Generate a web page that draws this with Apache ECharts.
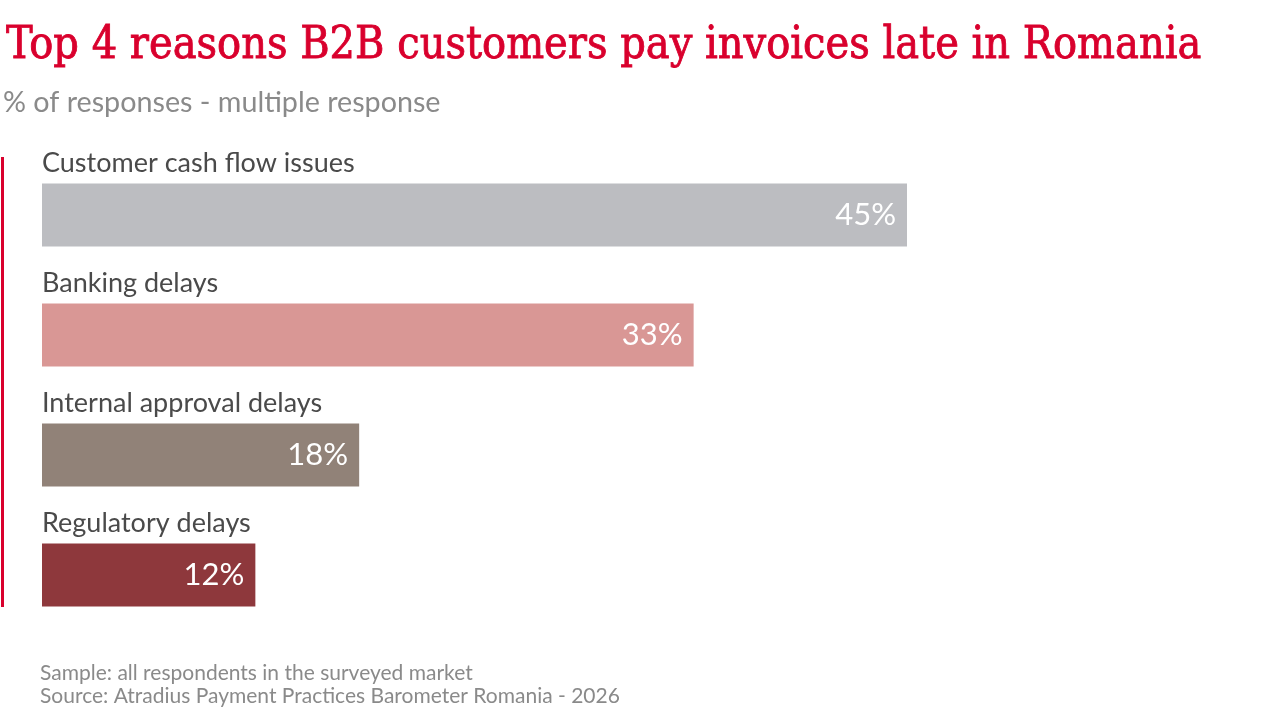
<!DOCTYPE html>
<html>
<head>
<meta charset="utf-8">
<script src="https://cdn.jsdelivr.net/npm/echarts@6/dist/echarts.min.js"></script>
<style>
  html, body { margin: 0; padding: 0; background: #fff; }
  #chart { width: 1280px; height: 720px; }
</style>
</head>
<body>
<div id="chart"></div>
<script>
var categories = ['Customer cash flow issues', 'Banking delays', 'Internal approval delays', 'Regulatory delays'];
// printed percentages
var values = [45, 33, 18, 12];
// bar lengths as drawn in the picture (they do not follow the printed numbers exactly)
var barLengths = [45, 33.9, 16.5, 11.1];
var barColors = ['#bcbdc1', '#d99795', '#918278', '#8e383c'];

var chart = echarts.init(document.getElementById('chart'));

var option = {
  backgroundColor: '#ffffff',
  animation: false,
  title: [
    {
      text: 'Top 4 reasons B2B customers pay invoices late in Romania',
      left: 1,
      top: 19,
      textStyle: {
        fontFamily: 'DejaVu Serif Condensed',
        fontWeight: 'normal',
        fontSize: 44.5,
        color: '#d9002d',
        textBorderColor: '#d9002d',
        textBorderWidth: 0.8
      }
    },
    {
      text: '% of responses - multiple response',
      left: -2,
      top: 83,
      textStyle: {
        fontFamily: 'Lato',
        fontWeight: 'normal',
        fontSize: 28.7,
        color: '#8a8a8a'
      }
    },
    {
      text: 'Sample: all respondents in the surveyed market\nSource: Atradius Payment Practices Barometer Romania - 2026',
      left: 35,
      top: 657,
      textStyle: {
        fontFamily: 'Lato',
        fontWeight: 'normal',
        fontSize: 21,
        lineHeight: 23,
        color: '#8a8a8a'
      }
    }
  ],
  graphic: [
    {
      type: 'rect',
      shape: { x: 1, y: 157, width: 3, height: 450 },
      style: { fill: '#d9002d' }
    }
  ],
  grid: {
    left: 42,
    top: 155,
    width: 865,
    height: 480
  },
  xAxis: {
    type: 'value',
    min: 0,
    max: 45,
    show: false
  },
  yAxis: {
    type: 'category',
    data: categories,
    inverse: true,
    axisLine: { show: false },
    axisTick: { show: false },
    splitLine: { show: false },
    axisLabel: {
      inside: true,
      align: 'left',
      verticalAlign: 'bottom',
      padding: [0, 0, 38, 0],
      margin: 0,
      fontFamily: 'Lato',
      fontSize: 27,
      color: '#4a4a4a'
    },
    z: 10
  },
  series: [
    {
      type: 'bar',
      barWidth: 63,
      data: barLengths.map(function (v, i) {
        return { value: v, pct: values[i], itemStyle: { color: barColors[i] } };
      }),
      label: {
        show: true,
        position: 'insideRight',
        distance: 11,
        formatter: function (p) { return p.data.pct + '%'; },
        fontFamily: 'Lato',
        fontSize: 31,
        color: '#ffffff'
      }
    }
  ]
};

chart.setOption(option);
</script>
</body>
</html>
